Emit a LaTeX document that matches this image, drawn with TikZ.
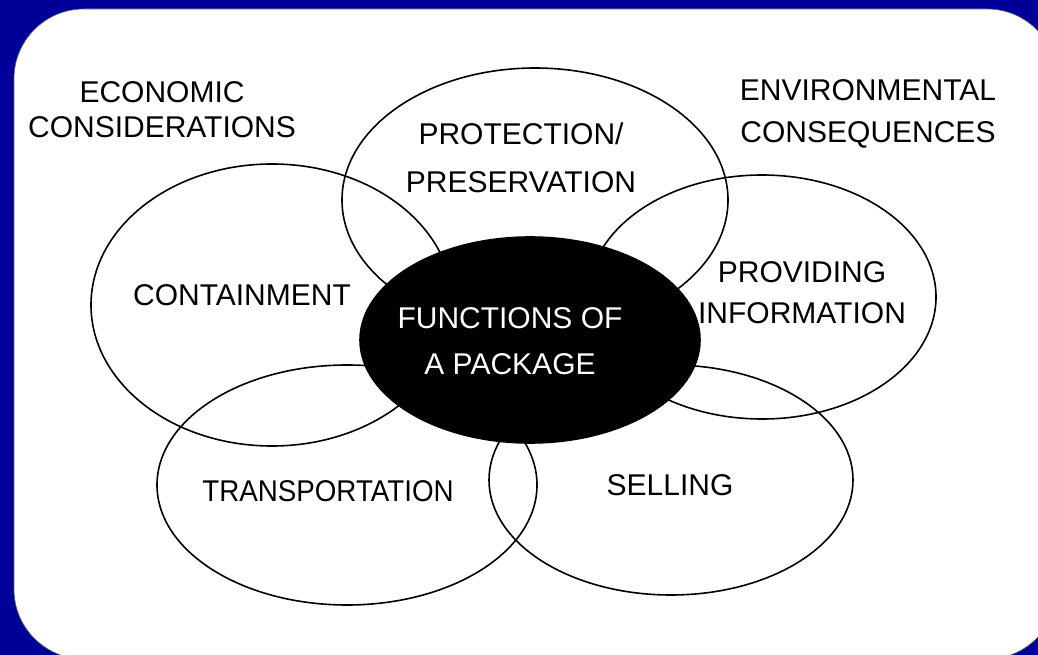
\documentclass[tikz,border=0pt]{standalone}
\usepackage{fontspec}
\setmainfont{Liberation Sans}
\usetikzlibrary{shapes.geometric}
\definecolor{pkblue}{HTML}{000099}
\tikzset{
  pkring/.style={ellipse, draw=black, line width=1.6pt, inner sep=0pt},
  pkcore/.style={pkring, fill=black},
  pklabel/.style={font=\fontsize{30}{#1}\selectfont, align=center, inner sep=0pt},
  pklabel/.default=36,
}

\begin{document}
\begin{tikzpicture}[x=1pt,y=-1pt]
  % slide background and white panel
  \fill[pkblue] (0,0) rectangle (1038,655);
  \useasboundingbox (0,0) rectangle (1038,655);
  \filldraw[fill=white, draw=black!60, line width=0.6pt, rounded corners=70pt]
    (14,9) rectangle (1057,659);

  % the five rings
  \node[pkring, minimum width=386pt, minimum height=264pt] (protect)   at (535,200) {};
  \node[pkring, minimum width=362pt, minimum height=282pt] (contain)   at (272,305) {};
  \node[pkring, minimum width=348pt, minimum height=244pt] (inform)    at (762,297) {};
  \node[pkring, minimum width=380pt, minimum height=240pt] (transport) at (347,485) {};
  \node[pkring, minimum width=364pt, minimum height=230pt] (sell)      at (671,480) {};
  % black centre
  \node[pkcore, minimum width=340pt, minimum height=206pt] (core)      at (530,340) {};

  % texts
  \node[pklabel=46, text=white] (coretext) at (510,341) {FUNCTIONS OF\\A PACKAGE};
  \node[pklabel=48] (protecttext)   at (521,158) {PROTECTION/\\PRESERVATION};
  \node[pklabel]    (containtext)   at (242,295) {CONTAINMENT};
  \node[pklabel=41] (informtext)    at (802,293) {PROVIDING\\INFORMATION};
  \node[pklabel]    (transporttext) at (328,491) {\scalebox{0.925}[1]{TRANSPORTATION}};
  \node[pklabel]    (selltext)      at (670,485) {SELLING};
  \node[pklabel=35] (economy)       at (162,110) {ECONOMIC\\CONSIDERATIONS};
  \node[pklabel=42] (environment)   at (868,114) {ENVIRONMENTAL\\CONSEQUENCES};
\end{tikzpicture}
\end{document}
